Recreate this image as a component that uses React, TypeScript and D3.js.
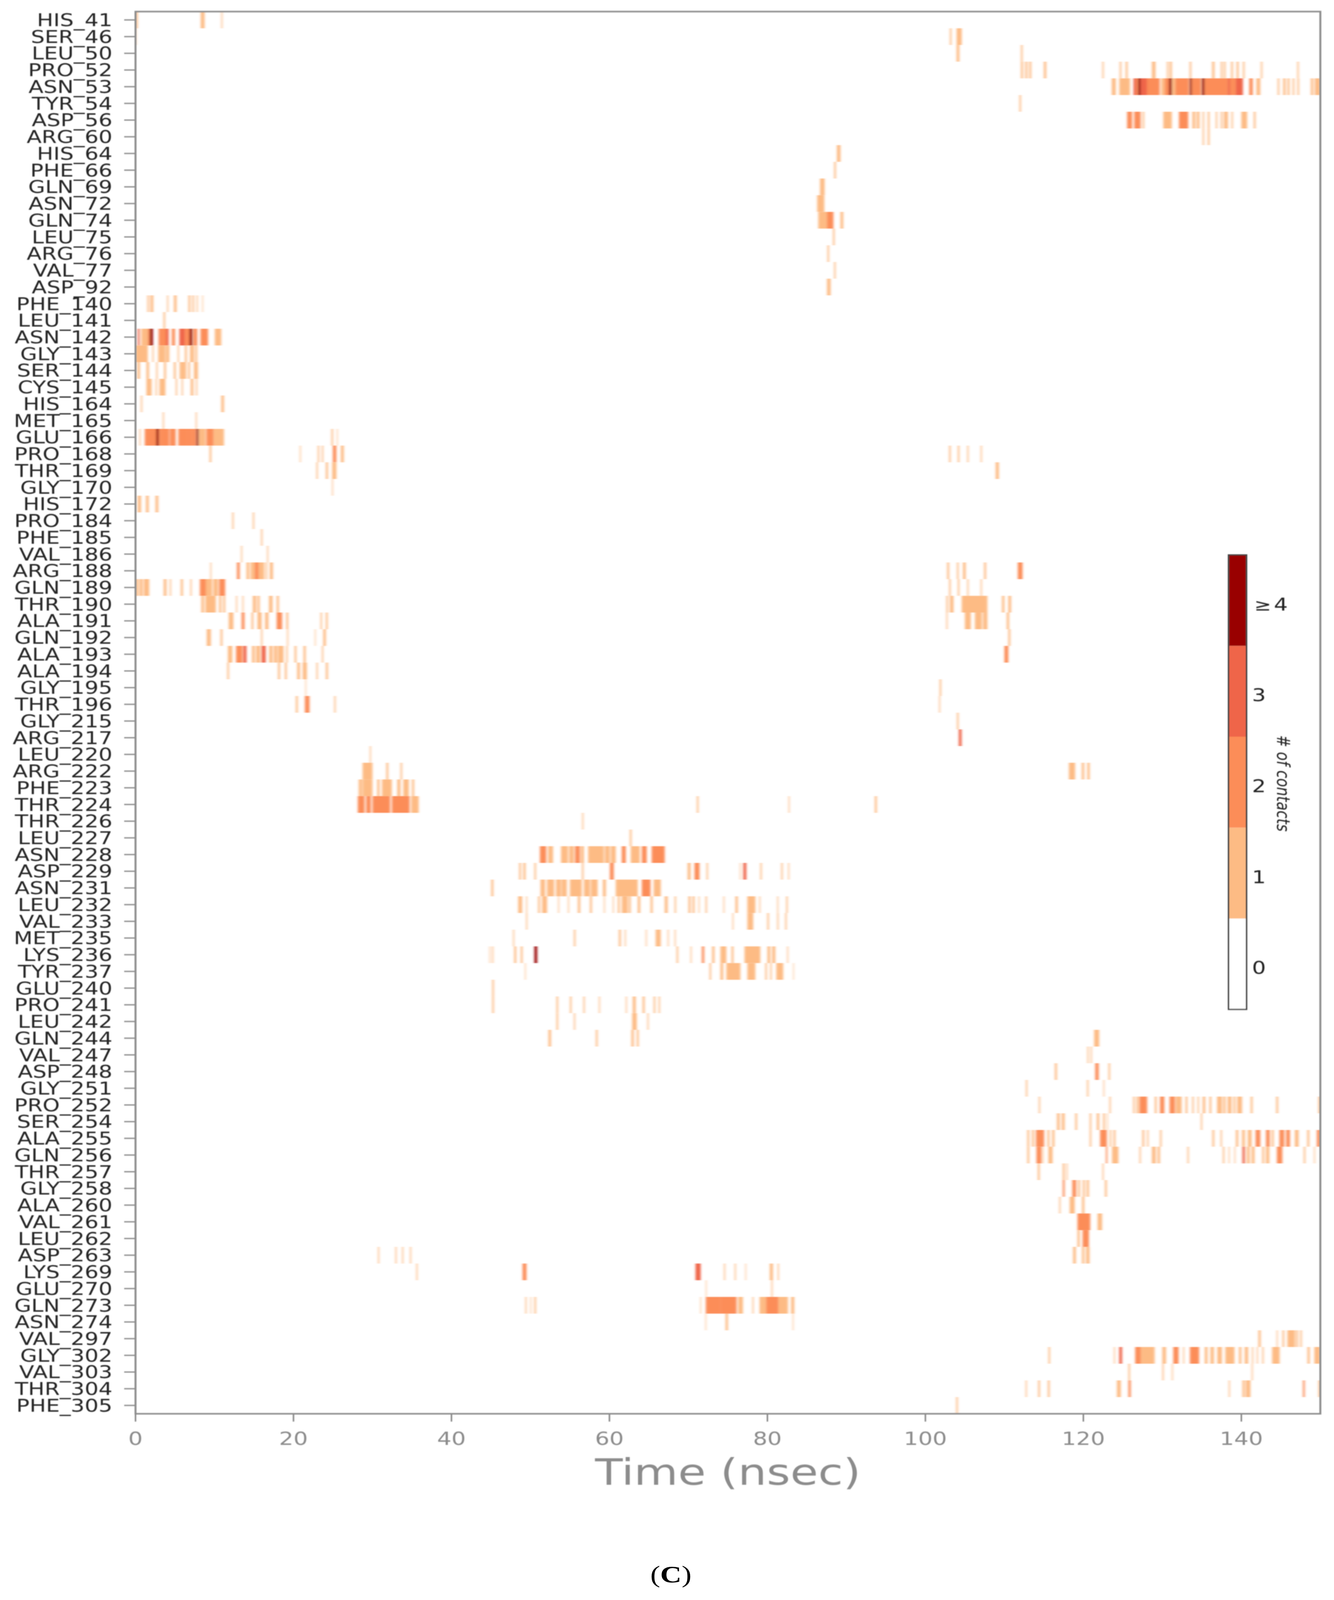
import React from "react";
import * as d3 from "d3";

type Run = [number, number, number];

const residues = ["HIS_41","SER_46","LEU_50","PRO_52","ASN_53","TYR_54","ASP_56","ARG_60","HIS_64","PHE_66","GLN_69","ASN_72","GLN_74","LEU_75","ARG_76","VAL_77","ASP_92","PHE_140","LEU_141","ASN_142","GLY_143","SER_144","CYS_145","HIS_164","MET_165","GLU_166","PRO_168","THR_169","GLY_170","HIS_172","PRO_184","PHE_185","VAL_186","ARG_188","GLN_189","THR_190","ALA_191","GLN_192","ALA_193","ALA_194","GLY_195","THR_196","GLY_215","ARG_217","LEU_220","ARG_222","PHE_223","THR_224","THR_226","LEU_227","ASN_228","ASP_229","ASN_231","LEU_232","VAL_233","MET_235","LYS_236","TYR_237","GLU_240","PRO_241","LEU_242","GLN_244","VAL_247","ASP_248","GLY_251","PRO_252","SER_254","ALA_255","GLN_256","THR_257","GLY_258","ALA_260","VAL_261","LEU_262","ASP_263","LYS_269","GLU_270","GLN_273","ASN_274","VAL_297","GLY_302","VAL_303","THR_304","PHE_305"];
const xTicks = [0, 20, 40, 60, 80, 100, 120, 140];
const levelColors = ["#ffffff", "#fdbb84", "#fc8d59", "#ef6548", "#990000"];
const levelLabels = ["0", "1", "2", "3", "4"];

// [start nsec, end nsec, number of contacts]
const HIS_41: Run[] = [[0,0.28,1],[8.26,8.74,1],[10.86,11,1]];
const SER_46: Run[] = [[0,0.1,1],[103.1,103.3,1],[103.95,104.6,1]];
const LEU_50: Run[] = [[103.95,104.3,1],[112.1,112.3,1]];
const PRO_52: Run[] = [[112.1,112.35,1],[112.65,112.9,1],[113.15,113.4,1],[115,115.3,1],[122.4,122.57,1],[124.6,124.8,1],[125.36,125.6,1],[128.68,129.13,1],[130.57,130.75,1],[130.93,131.2,1],[133.45,133.66,1],[136.3,136.6,1],[137.4,137.6,1],[137.8,138,1],[138.7,138.93,1],[139.4,139.65,1],[140.2,140.4,1],[142.47,142.65,1],[147.08,147.26,1]];
const ASN_53: Run[] = [[123.6,124.1,1],[124.55,125.9,1],[126.35,126.7,3],[126.7,126.94,2],[126.94,127.25,4],[127.25,128.05,3],[128.05,129.67,2],[129.85,130.3,1],[130.3,130.84,2],[130.84,131.2,4],[131.2,131.65,1],[131.65,133.36,2],[133.45,133.72,4],[133.72,134.9,2],[135,135.34,4],[135.34,138.3,2],[138.3,138.57,3],[138.57,139.3,2],[139.3,140.2,3],[141,141.45,2],[141.9,142.4,1],[144.6,144.8,1],[145.3,145.6,1],[145.85,146.1,1],[146.5,146.7,1],[147.1,147.3,1],[148.8,149.1,1],[149.3,150,1]];
const TYR_54: Run[] = [[111.9,112.1,1]];
const ASP_56: Run[] = [[125.54,126.17,2],[126.44,127.25,2],[127.5,127.7,1],[130.12,131.2,1],[132.1,133.27,2],[133.8,134.17,1],[134.35,134.7,1],[135.1,135.28,1],[135.75,135.97,1],[136.77,136.95,1],[137.4,137.6,1],[137.8,138.3,1],[138.75,138.93,1],[140,140.73,1],[141.57,141.8,1]];
const ARG_60: Run[] = [[135.1,135.28,1],[135.75,135.97,1]];
const HIS_64: Run[] = [[88.8,89.25,1]];
const PHE_66: Run[] = [[88.45,88.67,1]];
const GLN_69: Run[] = [[86.66,87.24,1]];
const ASN_72: Run[] = [[86.3,87.2,1]];
const GLN_74: Run[] = [[86.44,87.55,1],[87.55,88.36,2],[89.25,89.6,1]];
const LEU_75: Run[] = [[88.3,88.5,1]];
const ARG_76: Run[] = [[87.6,87.8,1]];
const VAL_77: Run[] = [[88.45,88.63,1]];
const ASP_92: Run[] = [[87.55,88,1]];
const PHE_140: Run[] = [[1.5,1.7,1],[1.9,2.25,1],[4,4.15,1],[4.86,5.2,1],[6.7,6.94,1],[7.2,7.4,1],[7.74,7.88,1],[8.45,8.55,1]];
const LEU_141: Run[] = [[3.54,3.75,1]];
const ASN_142: Run[] = [[0.28,0.51,3],[0.73,1.55,1],[1.55,1.8,2],[1.8,2.2,4],[2.92,3.2,2],[3.2,3.86,2],[3.86,4.19,3],[4.6,5,2],[5.55,6.25,3],[6.25,6.82,2],[6.82,7.2,4],[7.32,7.81,2],[8.23,9.18,2],[10.04,10.86,1]];
const GLY_143: Run[] = [[0,1.55,1],[2.13,2.29,1],[2.87,3.78,1],[3.86,4.27,1],[5.34,5.5,1],[6.25,6.5,1],[6.9,7.4,1],[7.57,7.81,1]];
const SER_144: Run[] = [[0.23,0.56,1],[1.38,1.71,1],[2.62,2.79,1],[3.61,3.86,1],[4.85,5.1,1],[5.59,6,1],[6,6.41,1],[6.66,6.9,1],[7.4,7.9,1]];
const CYS_145: Run[] = [[1.38,2.04,1],[2.54,2.7,1],[3.03,3.78,1],[5.09,5.26,1],[5.84,6,1],[6.99,7.32,1],[7.65,7.81,1]];
const HIS_164: Run[] = [[0.68,0.84,1],[10.86,11.2,1]];
const MET_165: Run[] = [[3.45,3.6,1],[7.62,7.76,1]];
const GLU_166: Run[] = [[0.5,0.64,1],[1.17,2.62,2],[2.62,2.95,4],[2.95,3.2,2],[3.2,4.27,2],[4.35,5.09,2],[5.42,6.58,2],[6.58,7.15,2],[7.15,7.65,2],[7.7,7.98,4],[7.98,8.88,1],[8.97,9.87,2],[9.87,11.2,1],[24.8,25,1],[25.5,25.6,1]];
const PRO_168: Run[] = [[9.37,9.6,1],[20.8,20.92,1],[23.07,23.25,1],[23.6,23.77,1],[24.98,25.43,2],[26,26.37,1],[103,103.2,1],[104.1,104.3,1],[105.3,105.46,1],[107,107.15,1]];
const THR_169: Run[] = [[22.9,23.07,1],[24.1,24.36,1],[24.9,25.43,1],[108.9,109.3,1]];
const GLY_170: Run[] = [[24.88,25,1]];
const HIS_172: Run[] = [[0.28,0.7,1],[1.32,1.67,1],[2.53,2.88,1]];
const PRO_184: Run[] = [[12.25,12.42,1],[14.85,15.02,1]];
const PHE_185: Run[] = [[15.9,16.07,1]];
const VAL_186: Run[] = [[13.36,13.5,1],[16.66,16.8,1]];
const ARG_188: Run[] = [[9.47,9.6,1],[12.84,13.19,2],[14.05,14.4,1],[14.57,15.1,1],[15.1,15.6,2],[15.6,16.3,1],[16.48,16.66,1],[17,17.4,1],[102.75,103,1],[104,104.2,1],[104.76,105.1,1],[107.43,107.68,1],[111.7,112.3,2]];
const GLN_189: Run[] = [[0,0.35,1],[0.5,0.9,1],[1.05,1.73,1],[3.57,3.92,1],[4.34,4.5,1],[5.73,6,1],[6.94,7.1,1],[8.15,8.9,2],[8.9,9.7,1],[9.85,10.45,1],[10.58,11.35,2],[103,103.2,1],[104.1,104.3,1],[105.3,105.46,1],[107,107.15,1]];
const THR_190: Run[] = [[8.33,8.67,1],[8.85,10.17,1],[10.58,10.86,1],[11.1,11.35,1],[12.73,12.87,1],[13.53,13.67,1],[14.85,15.27,1],[15.44,15.72,1],[16.9,17.35,1],[17.87,18.15,1],[102.65,102.85,1],[103.1,103.56,1],[104.6,107.85,1],[109.7,110,1],[110.5,110.85,1]];
const ALA_191: Run[] = [[11.8,12.39,1],[13.43,13.8,2],[14.68,14.92,1],[15.44,15.96,1],[16.41,16.83,1],[17.87,18.56,2],[19.08,19.33,1],[23.42,23.6,1],[24.1,24.33,1],[102.65,102.8,1],[105,105.75,1],[106.27,107.15,1],[107.3,107.85,1],[110.3,110.6,1]];
const GLN_192: Run[] = [[9.02,9.54,1],[10.76,11,1],[15.9,16.07,1],[19.19,19.33,1],[22.7,22.8,1],[23.77,24.1,1],[110.5,110.75,1]];
const ALA_193: Run[] = [[11.7,12.25,1],[12.73,13.53,2],[13.64,14.05,3],[14.75,15.1,1],[15.27,15.79,1],[15.96,16.48,3],[16.93,17.35,1],[17.52,17.94,1],[18.04,18.74,1],[19.08,19.26,1],[20.13,20.37,1],[21.27,21.55,1],[23.6,23.77,1],[110,110.5,2]];
const ALA_194: Run[] = [[11.62,11.83,1],[18.04,18.29,1],[18.91,19.15,1],[20.47,20.82,1],[21.17,21.69,1],[22.9,23.07,1],[24.1,24.36,1]];
const GLY_195: Run[] = [[21.5,21.6,1],[101.8,102,1]];
const THR_196: Run[] = [[20.3,20.54,1],[21.44,22.03,2],[25.16,25.33,1],[101.73,101.87,1]];
const GLY_215: Run[] = [[104,104.2,1]];
const ARG_217: Run[] = [[104.23,104.58,3]];
const LEU_220: Run[] = [[29.66,29.8,1]];
const ARG_222: Run[] = [[28.75,30,1],[31.75,32,1],[33.55,33.75,1],[118.17,118.95,1],[119.8,120.1,1],[120.5,120.8,1]];
const PHE_223: Run[] = [[28.26,28.67,1],[28.75,30,1],[30.6,30.9,1],[31.2,32.45,1],[33.14,33.55,1],[33.9,34.6,1],[35,35.27,1]];
const THR_224: Run[] = [[28.14,29,2],[29.2,29.8,2],[30,32.24,2],[32.45,34.7,2],[34.9,35.85,1],[71.07,71.27,1],[82.67,82.8,1],[93.6,93.85,1]];
const THR_226: Run[] = [[56.55,56.7,1]];
const LEU_227: Run[] = [[62.58,62.8,1]];
const ASN_228: Run[] = [[51.2,52,2],[52.23,52.86,1],[53.87,54.75,1],[54.9,55.5,1],[55.64,56.27,2],[56.39,56.77,1],[57.3,59.3,1],[59.42,60.05,1],[60.18,60.8,1],[61.56,62.07,2],[62.7,63.84,1],[64.1,64.72,2],[65.35,67,2]];
const ASP_229: Run[] = [[48.57,48.8,1],[49.1,49.38,1],[50.5,50.7,1],[56.52,56.72,1],[60.05,60.55,2],[69.9,70.27,1],[70.77,71.4,2],[72.29,72.47,1],[76.5,76.6,1],[76.95,77.33,3],[79.1,79.28,1],[81.75,81.93,1],[82.63,82.76,1]];
const ASN_231: Run[] = [[45.04,45.3,1],[51.27,51.85,1],[52.1,53,1],[53.24,53.87,1],[53.95,54.6,1],[55,56.5,1],[56.77,57.53,1],[57.65,58.5,1],[59.17,59.55,1],[60.8,63.58,1],[64.1,65.2,2],[65.6,66.5,1]];
const LEU_232: Run[] = [[48.45,48.95,1],[49.45,49.58,1],[50.97,51.2,1],[51.47,52.1,1],[53.5,53.62,1],[54.75,54.88,1],[56,56.3,1],[57.53,57.78,1],[59.3,59.42,1],[60.43,60.55,1],[61.06,61.3,1],[61.56,62.32,1],[62.45,62.7,1],[63.58,63.9,1],[65.2,65.47,1],[67,67.37,1],[68.25,68.43,1],[70,70.27,1],[70.52,70.77,1],[71.28,71.4,1],[72.16,72.34,1],[74.43,74.55,1],[75.95,76.25,1],[77.46,78.47,1],[78.97,79.1,1],[81.24,81.37,1],[82.38,82.56,1]];
const VAL_233: Run[] = [[49.45,49.6,1],[75.57,75.7,1],[77.46,78.2,1],[79.98,80.18,1],[81.24,81.4,1],[82.25,82.43,1]];
const MET_235: Run[] = [[47.8,47.94,1],[55.5,55.7,1],[61.19,61.44,1],[61.94,62.07,1],[64.6,64.72,1],[65.85,66.5,1],[67.37,67.5,1],[68.25,68.38,1]];
const LYS_236: Run[] = [[44.8,44.9,1],[45.16,45.3,1],[47.94,48.2,1],[48.77,49,1],[50.5,50.85,4],[68.5,68.7,1],[70.27,70.4,1],[71.7,72,2],[73,73.3,1],[74.05,74.8,1],[75.45,75.7,1],[77.1,79.1,1],[80,80.36,1],[80.6,81,1],[82.5,82.63,1]];
const TYR_237: Run[] = [[49.3,49.4,1],[72.67,72.87,1],[74.05,74.4,1],[74.8,76.58,1],[77.46,78.47,1],[79.73,79.93,1],[80.36,80.54,1],[81.12,82,1],[83.26,83.35,1]];
const GLU_240: Run[] = [[45.16,45.37,1]];
const PRO_241: Run[] = [[45.16,45.37,1],[53.29,53.5,1],[55,55.2,1],[56.7,56.87,1],[58.66,58.8,1],[62.07,62.2,1],[62.95,63.33,1],[64.2,64.46,1],[65.6,65.8,1],[66.23,66.4,1]];
const LEU_242: Run[] = [[53.29,53.5,1],[55.5,55.66,1],[62.88,63.46,1],[64.8,64.95,1]];
const GLN_244: Run[] = [[52.28,52.6,1],[58.28,58.5,1],[62.78,63.08,1],[63.46,63.7,1],[121.36,122,1]];
const VAL_247: Run[] = [[120.5,120.65,1],[120.93,121.07,1]];
const ASP_248: Run[] = [[116.39,116.65,1],[121.5,121.94,2],[123.18,123.38,1]];
const GLY_251: Run[] = [[112.72,112.9,1],[120.46,120.64,1],[122.54,122.66,1]];
const PRO_252: Run[] = [[114.35,114.52,1],[123.29,123.46,1],[126.3,126.5,1],[126.74,127,1],[127.1,128.07,2],[129.04,129.28,1],[129.7,130.25,2],[130.91,131.6,2],[131.7,132.44,1],[132.93,133.17,1],[133.78,133.97,1],[134.46,134.63,1],[135.11,135.43,1],[135.96,136.2,1],[136.93,137.54,1],[137.71,138,1],[138.27,138.75,1],[139,139.24,1],[139.48,140.09,1],[141.18,141.42,1],[144.41,144.65,1],[149.75,150,1]];
const SER_254: Run[] = [[116.66,117,1],[117.27,117.63,1],[118.97,119.2,1],[120.8,121,1],[121.7,122,1],[122.5,122.73,1],[123,123.1,1],[134.87,135.04,1]];
const ALA_255: Run[] = [[112.9,113.14,1],[113.5,113.75,1],[114,115.03,2],[115.45,115.7,1],[116.05,116.34,1],[120.8,121,1],[122.12,122.97,2],[123.34,123.53,1],[123.82,124.06,1],[127.46,127.7,1],[128.07,128.24,1],[129.7,129.9,1],[136.33,136.57,1],[137.37,137.54,1],[139.31,139.6,1],[140.09,140.45,1],[140.82,141.3,1],[141.8,142.4,2],[143.12,143.6,2],[143.85,144.1,1],[144.82,145.43,2],[145.67,146.16,2],[146.77,147.25,1],[148.34,148.6,1],[149.56,150,2]];
const GLN_256: Run[] = [[112.9,113.14,1],[114.06,114.7,2],[114.84,114.96,1],[115.57,116.1,1],[122.85,123.04,2],[123.63,124.43,1],[127.1,127.27,1],[128.68,129.16,1],[129.4,129.7,1],[133.17,133.34,1],[137.66,137.85,1],[138.39,138.51,1],[139.12,139.24,1],[140.14,140.45,3],[140.7,141.06,1],[141.3,141.67,1],[142.64,142.88,1],[143.12,143.54,1],[144.5,145.19,2],[147.9,148.1,1],[149.2,149.32,1]];
const THR_257: Run[] = [[114.23,114.47,1],[117.39,117.63,1],[117.87,118,1],[122.41,122.56,1]];
const GLY_258: Run[] = [[117.39,117.63,2],[118.6,119.09,2],[119.33,119.57,1],[119.94,120.18,1],[120.42,120.7,1],[122.73,122.97,1]];
const ALA_260: Run[] = [[116.94,117.1,1],[118.27,118.9,1],[119.83,120.12,1]];
const VAL_261: Run[] = [[119.25,120.87,2],[121.8,122.37,1]];
const LEU_262: Run[] = [[119.25,119.54,1],[119.9,120.7,2]];
const ASP_263: Run[] = [[30.7,30.85,1],[32.9,33.05,1],[33.75,33.9,1],[34.75,34.9,1],[118.7,119.05,1],[119.83,120.12,1],[120.35,120.78,1]];
const LYS_269: Run[] = [[35.55,35.7,1],[49,49.5,2],[70.9,71.55,3],[74.5,74.65,1],[75.85,76,1],[77.2,77.3,1],[80.3,80.7,1],[81.3,81.45,1]];
const GLU_270: Run[] = [[72.2,72.3,1],[80.5,80.65,1]];
const GLN_273: Run[] = [[49.35,49.5,1],[50,50.1,1],[50.5,50.7,1],[71.5,71.6,1],[72.2,74.1,2],[74.1,76.1,2],[76.3,76.9,1],[78.1,78.25,1],[79,79.85,1],[79.85,81.4,2],[81.4,82.6,1],[83,83.4,1]];
const ASN_274: Run[] = [[72.15,72.25,1],[74.7,75,1],[83.2,83.3,1]];
const VAL_297: Run[] = [[142.16,142.45,1],[144.47,144.6,1],[145.2,145.42,1],[145.83,146.8,1],[146.93,147.16,1],[147.45,147.65,1]];
const GLY_302: Run[] = [[115.58,115.78,1],[123.87,124,1],[124.54,124.9,3],[126.56,127.28,2],[127.28,129.02,1],[130,130.46,1],[131.38,132.05,2],[132.63,132.77,1],[133.49,134.65,2],[135.37,135.72,1],[136.09,136.53,1],[136.96,137.54,1],[137.97,139.13,1],[139.7,140,1],[140.43,140.86,1],[141.35,141.5,1],[141.96,142.1,1],[142.65,142.82,1],[143.9,144.85,1],[148.37,148.66,1],[149.24,150,1]];
const VAL_303: Run[] = [[125.7,125.9,1],[130,130.17,1],[131.2,131.33,1],[141.3,141.44,1]];
const THR_304: Run[] = [[112.69,112.84,1],[114.28,114.5,1],[115.5,115.73,1],[124.25,124.74,1],[125.7,126,2],[138.4,138.55,1],[140.14,140.43,1],[140.57,141.15,1],[147.8,148.03,2],[149.76,150,1]];
const PHE_305: Run[] = [[103.9,104.1,1]];

const runsByResidue: Record<string, Run[]> = {HIS_41,SER_46,LEU_50,PRO_52,ASN_53,TYR_54,ASP_56,ARG_60,HIS_64,PHE_66,GLN_69,ASN_72,GLN_74,LEU_75,ARG_76,VAL_77,ASP_92,PHE_140,LEU_141,ASN_142,GLY_143,SER_144,CYS_145,HIS_164,MET_165,GLU_166,PRO_168,THR_169,GLY_170,HIS_172,PRO_184,PHE_185,VAL_186,ARG_188,GLN_189,THR_190,ALA_191,GLN_192,ALA_193,ALA_194,GLY_195,THR_196,GLY_215,ARG_217,LEU_220,ARG_222,PHE_223,THR_224,THR_226,LEU_227,ASN_228,ASP_229,ASN_231,LEU_232,VAL_233,MET_235,LYS_236,TYR_237,GLU_240,PRO_241,LEU_242,GLN_244,VAL_247,ASP_248,GLY_251,PRO_252,SER_254,ALA_255,GLN_256,THR_257,GLY_258,ALA_260,VAL_261,LEU_262,ASP_263,LYS_269,GLU_270,GLN_273,ASN_274,VAL_297,GLY_302,VAL_303,THR_304,PHE_305};

const W = 3416, H = 5112;
const plot = { left: 347, right: 3381, top: 37, bottom: 4517 };
const bar = { left: 3146, right: 3192, top: 1773, bottom: 3225 };
const axisGrey = "#8c8c8c";
const font = "'DejaVu Sans', sans-serif";

export default function App() {
  const x = d3.scaleLinear().domain([0, 150]).range([plot.left, plot.right]);
  const y = d3.scaleBand<string>().domain(residues).range([plot.top, plot.bottom]);
  const color = d3.scaleOrdinal<number, string>().domain([0, 1, 2, 3, 4]).range(levelColors);
  const barY = d3.scaleBand<string>().domain([...levelLabels].reverse()).range([bar.top, bar.bottom]);
  const band = y.bandwidth();
  // The browser window can be shorter than the figure; keep the whole figure in view.
  const shownH = Math.min(H, window.innerHeight);

  return (
    <div style={{ margin: -8, width: W, height: shownH, overflow: "hidden" }}>
    <svg width={W} height={shownH} viewBox={`0 0 ${W} ${H}`} preserveAspectRatio="none" style={{ display: "block", background: "#fff" }}>
      <defs>
        <filter id="markBlur" filterUnits="userSpaceOnUse" x="0" y="0" width={W} height={H}>
          <feGaussianBlur stdDeviation="3 1.6" />
        </filter>
        <filter id="textBlur" filterUnits="userSpaceOnUse" x="0" y="0" width={W} height={H}>
          <feGaussianBlur stdDeviation="1.3" />
        </filter>
        <clipPath id="plotClip">
          <rect x={plot.left} y={plot.top} width={plot.right - plot.left} height={plot.bottom - plot.top} />
        </clipPath>
      </defs>

      <g clipPath="url(#plotClip)">
        <g filter="url(#markBlur)">
          {residues.flatMap((res) =>
            (runsByResidue[res] || []).map(([a, b, lv], i) => (
              <rect key={res + i} x={x(a)} width={x(b) - x(a)} y={y(res)!} height={band} fill={color(lv)} />
            ))
          )}
        </g>
      </g>

      <g filter="url(#textBlur)">
        {residues.map((res) => {
          const cy = y(res)! + band / 2;
          return (
            <g key={res}>
              <line x1={plot.left - 29} x2={plot.left} y1={cy} y2={cy} stroke={axisGrey} strokeWidth={4} />
              <text x={288} y={cy + 20} textAnchor="end" fontFamily={font} fontSize={56} fill="#262626">{res}</text>
            </g>
          );
        })}
        {xTicks.map((t) => (
          <g key={t}>
            <line x1={x(t)} x2={x(t)} y1={plot.bottom} y2={plot.bottom + 25} stroke={axisGrey} strokeWidth={4} />
            <text x={x(t)} y={4617} textAnchor="middle" fontFamily={font} fontSize={58} fill={axisGrey}>{t}</text>
          </g>
        ))}
        <rect x={plot.left} y={plot.top} width={plot.right - plot.left} height={plot.bottom - plot.top} fill="none" stroke={axisGrey} strokeWidth={5} />
        <text x={(plot.left + plot.right) / 2} y={4744} textAnchor="middle" fontFamily={font} fontSize={116} fill={axisGrey}>Time (nsec)</text>

        {levelLabels.map((l, i) => (
          <rect key={l} x={bar.left} width={bar.right - bar.left} y={barY(l)!} height={barY.bandwidth()} fill={color(i)} />
        ))}
        <rect x={bar.left} y={bar.top} width={bar.right - bar.left} height={bar.bottom - bar.top} fill="none" stroke="#444" strokeWidth={4} />
        {levelLabels.map((l) => {
          const by = barY(l)! + barY.bandwidth() / 2 + 32;
          return l === "4" ? (
            <g key={l}>
              <text x={3212} y={by} fontFamily={font} fontSize={52} fill="#222">≥</text>
              <text x={3262} y={by} fontFamily={font} fontSize={56} fill="#222">{l}</text>
            </g>
          ) : (
            <text key={l} x={3206} y={by} fontFamily={font} fontSize={56} fill="#222">{l}</text>
          );
        })}
        <text transform={`translate(3270,${(bar.top + bar.bottom) / 2 + 4}) rotate(90)`} textAnchor="middle" fontFamily={font} fontStyle="italic" fontSize={46} fill="#222"># of contacts</text>
      </g>

      <text x={1718} y={5056} textAnchor="middle" fontFamily="'Liberation Serif', serif" fontSize={76} fill="#000">(<tspan fontWeight="bold">C</tspan>)</text>
    </svg>
    </div>
  );
}
